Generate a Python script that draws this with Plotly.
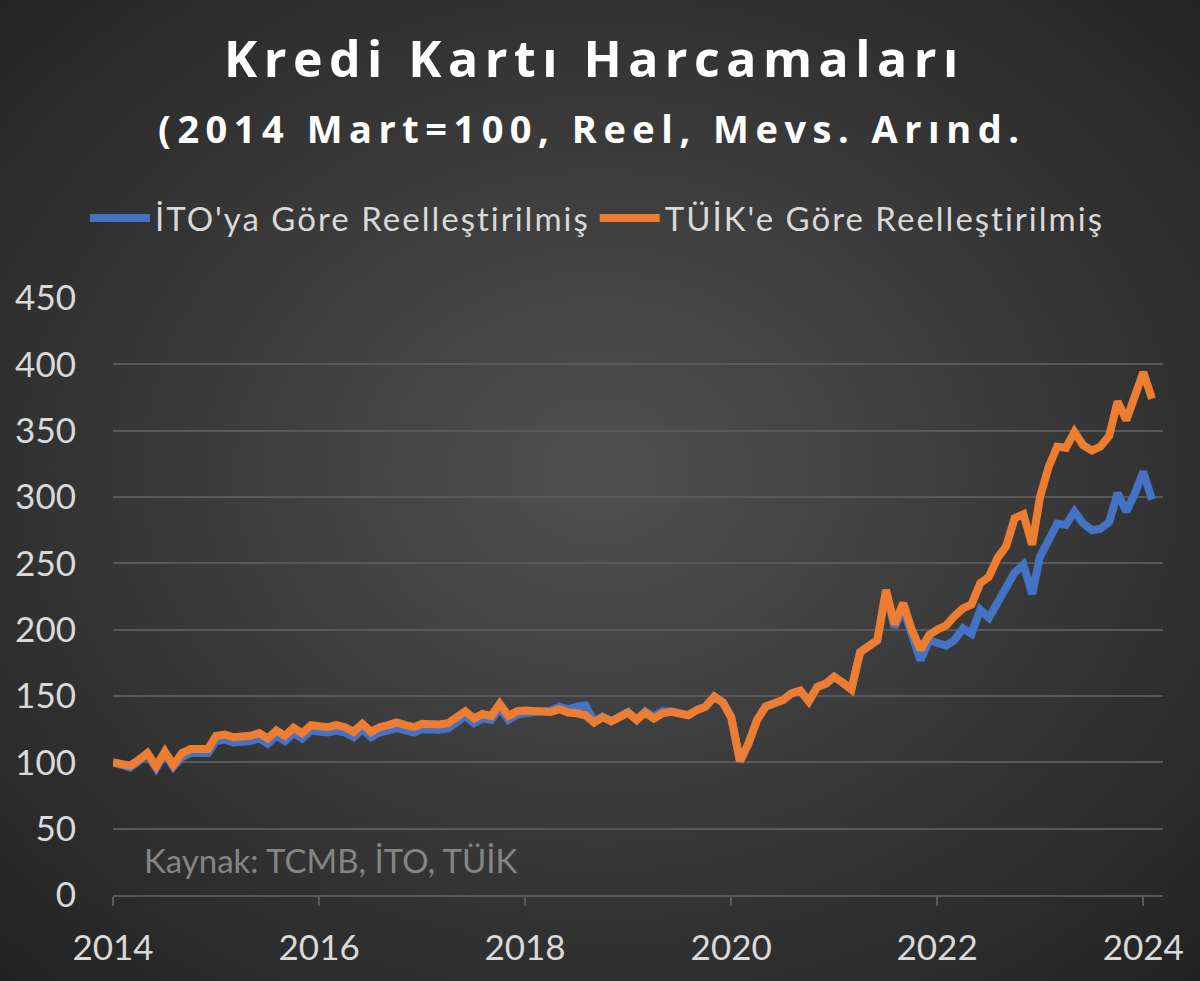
import base64
import pandas as pd
import plotly.graph_objects as go

# ---- data (monthly, 2014 Mart = 100) ----
start_month = "2014-03-01"
tuik = [100, 99, 97.5, 102, 107, 97, 108, 98, 107, 110, 110, 110,
        120, 121, 119, 119, 120, 122, 118, 124, 120, 126, 122, 128,
        127.5, 126.5, 128, 126.5, 123, 129, 123, 126.5, 128, 130, 128, 126.5,
        129, 128, 128.5, 129.5, 134, 138.5, 133, 136.5, 135, 144, 135, 138.5,
        139, 138.5, 139, 138, 140, 137.5, 137, 135.5, 130, 134, 131, 134,
        137.5, 132, 137.5, 133, 137, 138, 137, 135.5, 139.5, 142, 149.5, 145,
        134, 101, 114, 132, 142, 144, 147, 152, 154, 146, 157, 159.5,
        164.5, 160, 155, 183, 188, 192, 230, 204, 220, 200, 185, 196,
        200, 203, 210, 216, 219, 235, 240, 254, 263, 284, 287, 264,
        300, 323, 338, 337, 349, 339, 335, 338, 346, 372, 358, 379,
        394, 374]
ito = [100, 98, 96, 101, 106, 95.5, 106.5, 96.5, 104, 107, 107, 107,
       116, 117, 115, 115, 116, 118, 114, 120, 116, 122, 118, 124,
       123.5, 122.5, 124, 122.5, 119, 125, 119, 122.5, 124, 126, 124, 122.5,
       125, 124, 124.5, 125.5, 130, 135, 129.5, 133, 132, 141, 132, 136,
       137, 137.5, 139, 139, 142, 140, 142, 143, 131, 134.5, 131, 134,
       138, 132, 138.5, 134.5, 138.5, 138.5, 137, 135.5, 139.5, 142, 149.5, 145,
       134, 100.5, 114, 132, 142, 144, 147, 152, 154, 146, 157, 159.5,
       164.5, 160, 155, 183, 188, 192, 228, 202, 216, 196, 177, 192,
       190, 188, 192, 201, 197, 215, 209, 220, 230, 243, 249, 227,
       255, 268, 280, 279, 289, 280, 275, 276, 281, 303, 289, 303,
       319, 298]
series_names = ["İTO'ya Göre Reelleştirilmiş", "TÜİK'e Göre Reelleştirilmiş"]
tick_years = ["2014", "2016", "2018", "2020", "2022", "2024"]
y_ticks = [0, 50, 100, 150, 200, 250, 300, 350, 400, 450]
title_text = "Kredi Kartı Harcamaları"
subtitle_text = "(2014 Mart=100, Reel, Mevs. Arınd."
source_text = "Kaynak: TCMB, İTO, TÜİK"

dates = pd.date_range(start_month, periods=len(tuik), freq="MS")
tick_dates = pd.date_range(start_month, periods=len(tick_years), freq="24MS")

FONT = "Lato"
TITLE_FONT = "Open Sans"
TXT = "#d9d9d9"


def spaced(text, px_spacing):
    return f'<span style="letter-spacing:{px_spacing}px">{text}</span>'


fig = go.Figure()
fig.add_trace(go.Scatter(x=dates, y=ito, name=spaced(series_names[0], 2), mode="lines",
                         line=dict(color="#4472C4", width=8)))
fig.add_trace(go.Scatter(x=dates, y=tuik, name=spaced(series_names[1], 2), mode="lines",
                         line=dict(color="#ED7D31", width=8)))

svg = ('<svg xmlns="http://www.w3.org/2000/svg" width="1200" height="981" '
       'preserveAspectRatio="none">'
       '<defs><radialGradient id="g" cx="50%" cy="48%" r="72%">'
       '<stop offset="0" stop-color="#505050"/>'
       '<stop offset="1" stop-color="#222222"/>'
       '</radialGradient></defs>'
       '<rect width="1200" height="981" fill="url(#g)"/></svg>')
src = "data:image/svg+xml;base64," + base64.b64encode(svg.encode()).decode()

L, R, T, B = 113, 37, 298, 86
PW, PH = 1200 - L - R, 981 - T - B


def py(pix):
    return (981 - B - pix) / PH


def px(pix):
    return (pix - L) / PW


fig.update_layout(
    width=1200, height=981,
    margin=dict(l=L, r=R, t=T, b=B),
    paper_bgcolor="#383838",
    plot_bgcolor="rgba(0,0,0,0)",
    font=dict(family=FONT, color=TXT),
    showlegend=True,
    legend=dict(orientation="h", x=px(597), xanchor="center", y=py(218), yanchor="middle",
                font=dict(size=33, color=TXT, family=FONT), bgcolor="rgba(0,0,0,0)",
                itemwidth=60),
    images=[dict(source=src, xref="paper", yref="paper", x=px(0), y=py(0),
                 sizex=1200 / PW, sizey=981 / PH, sizing="stretch",
                 xanchor="left", yanchor="top", layer="below")],
    xaxis=dict(range=[dates[0], pd.Timestamp("2024-05-10")], tickvals=tick_dates,
               ticktext=tick_years, showgrid=False, zeroline=False,
               showline=True, linecolor="#595959", linewidth=2,
               ticks="outside", ticklen=9, tickwidth=2, tickcolor="#595959",
               tickfont=dict(size=35, color=TXT, family=FONT), ticklabelstandoff=12),
    yaxis=dict(range=[0, 450], tickvals=y_ticks, showgrid=True, gridcolor="#595959",
               gridwidth=2, zeroline=False, showline=False, ticks="",
               tickfont=dict(size=35, color=TXT, family=FONT), ticklabelstandoff=36),
    annotations=[
        dict(text="<b>" + spaced(title_text, 6.5) + "</b>", xref="paper", yref="paper",
             x=px(594), y=py(58), xanchor="center", yanchor="middle", showarrow=False,
             font=dict(size=50, color="#ffffff", family=TITLE_FONT)),
        dict(text="<b>" + spaced(subtitle_text, 6.5) + "</b>", xref="paper", yref="paper",
             x=px(592), y=py(128), xanchor="center", yanchor="middle", showarrow=False,
             font=dict(size=38, color="#ffffff", family=TITLE_FONT)),
        dict(text=source_text, xref="paper", yref="paper",
             x=px(142), y=py(860), xanchor="left", yanchor="middle", showarrow=False,
             font=dict(size=33, color="#858585", family=FONT)),
    ],
)

fig.write_html("out.html", config={"displayModeBar": False},
               post_script="document.body.style.margin='0px';")
